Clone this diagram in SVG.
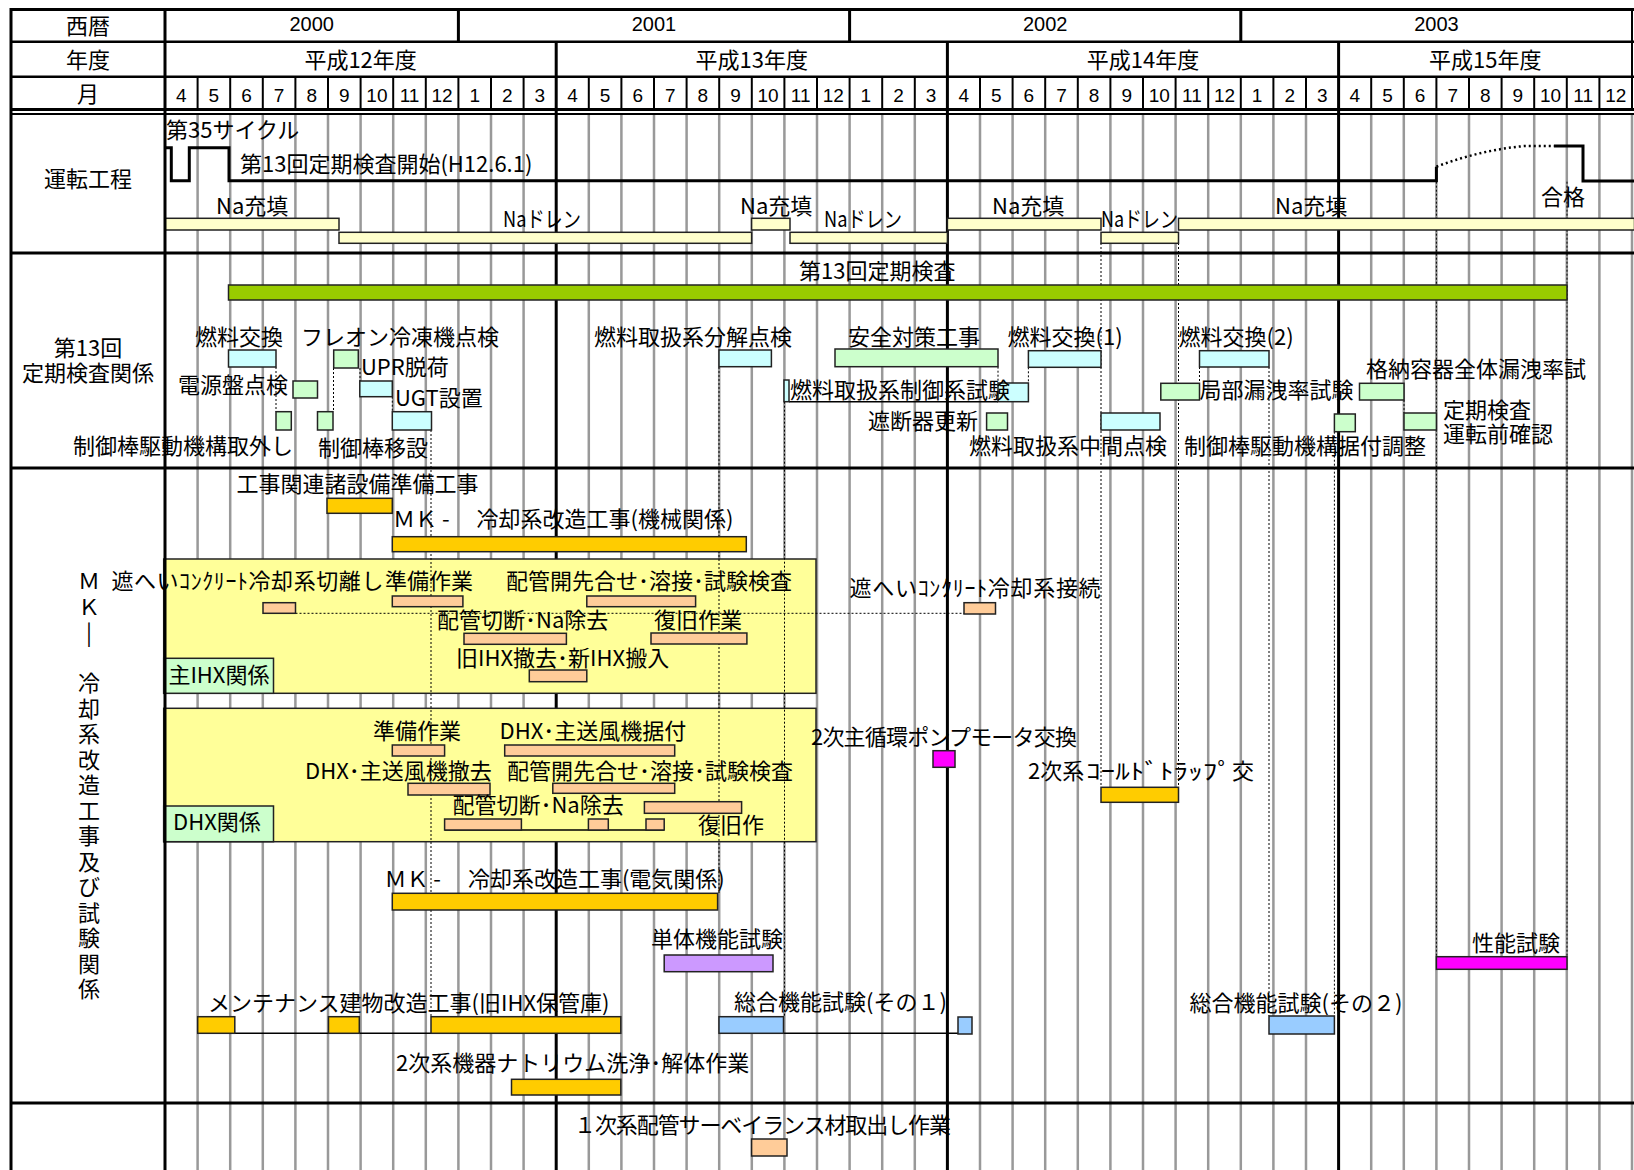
<svg xmlns="http://www.w3.org/2000/svg" width="1634" height="1170" viewBox="0 0 1634 1170">
<style>
.t{font-family:"Noto Sans CJK JP","Liberation Sans",sans-serif;font-size:22px;fill:#000;dominant-baseline:central;transform:translateY(-3px)}
.c{text-anchor:middle}
.h{font-family:"Liberation Sans",sans-serif;font-size:20px;fill:#000;text-anchor:middle;dominant-baseline:central}
.m{font-family:"Liberation Sans",sans-serif;font-size:19px;fill:#000;text-anchor:middle;dominant-baseline:central}
.grid{stroke:#999;stroke-width:2.5;fill:none}
.blk{stroke:#000;fill:none}
.dot{stroke:#000;stroke-width:1;stroke-dasharray:2 2;fill:none}
.bar{stroke:#222;stroke-width:1.5}
.cy{fill:#CCFFFF}.gr{fill:#CCFFCC}.or{fill:#FFCC00}.pe{fill:#FFCC99}.na{fill:#FFFFCC}
.bl{fill:#99CCFF}.pu{fill:#CC99FF}.mg{fill:#FF00FF}.lg{fill:#99CC00}.yl{fill:#FFFF99}
</style>
<rect x="0" y="0" width="1634" height="1170" fill="#fff"/>

<g id="grid">
<path class="grid" d="M197.6,114V1170M230.2,114V1170M262.8,114V1170M295.4,114V1170M328,114V1170M360.6,114V1170M393.2,114V1170M425.8,114V1170M458.4,114V1170M491,114V1170M523.6,114V1170M588.8,114V1170M621.4,114V1170M654,114V1170M686.6,114V1170M719.2,114V1170M751.8,114V1170M784.4,114V1170M817,114V1170M849.6,114V1170M882.2,114V1170M914.8,114V1170M980,114V1170M1012.6,114V1170M1045.2,114V1170M1077.8,114V1170M1110.4,114V1170M1143,114V1170M1175.6,114V1170M1208.2,114V1170M1240.8,114V1170M1273.4,114V1170M1306,114V1170M1371.2,114V1170M1403.8,114V1170M1436.4,114V1170M1469,114V1170M1501.6,114V1170M1534.2,114V1170M1566.8,114V1170M1599.4,114V1170M1632,114V1170"/>
<path class="blk" stroke-width="2" d="M197.6,76.7V109M230.2,76.7V109M262.8,76.7V109M295.4,76.7V109M328,76.7V109M360.6,76.7V109M393.2,76.7V109M425.8,76.7V109M458.4,76.7V109M491,76.7V109M523.6,76.7V109M588.8,76.7V109M621.4,76.7V109M654,76.7V109M686.6,76.7V109M719.2,76.7V109M751.8,76.7V109M784.4,76.7V109M817,76.7V109M849.6,76.7V109M882.2,76.7V109M914.8,76.7V109M980,76.7V109M1012.6,76.7V109M1045.2,76.7V109M1077.8,76.7V109M1110.4,76.7V109M1143,76.7V109M1175.6,76.7V109M1208.2,76.7V109M1240.8,76.7V109M1273.4,76.7V109M1306,76.7V109M1371.2,76.7V109M1403.8,76.7V109M1436.4,76.7V109M1469,76.7V109M1501.6,76.7V109M1534.2,76.7V109M1566.8,76.7V109M1599.4,76.7V109M1632,8V109"/>
<path class="blk" stroke-width="3" d="M458.4,8V41.7M849.6,8V41.7M1240.8,8V41.7M556.2,41.7V1170M947.4,41.7V1170M1338.6,41.7V1170"/>
</g>

<g id="regions">
<rect id="ihx-region" class="bar yl" x="163.7" y="559" width="652.3" height="134.3"/>
<rect id="dhx-region" class="bar yl" x="163.7" y="708.3" width="652.3" height="133.4"/>
</g>

<g id="connectors">
<path class="dot" d="M276,367V411.7M333.5,368V411.7M360,368V381M392.3,396.7V411.7M431,430V1017M719,367V893M784.5,401.7V1017M998,366.7V383M1028.4,367.3V383M1101,243V787M1178.5,243V787M1199.5,367V383M1269,367V1016M1334.4,431.7V1016M1404,400V413M1436.4,181.7V957M1567,181.7V957M295.5,613.3H964"/>
<path class="blk" stroke-width="1.5" d="M789,401.7H998M444.6,830H664.2M197.7,1033.3H431M783.5,1033.3H958"/>
</g>

<g id="operation">
<path class="blk" stroke-width="3" d="M165,147.7H171.3V180.7H189.3V147.7H229V180.7H1436.4V166.7"/>
<path class="blk" stroke-width="2.5" stroke-dasharray="2 3" d="M1436.4,166.7Q1480,150 1525,146H1554"/>
<path class="blk" stroke-width="3" d="M1554,146H1583V181H1634"/>
<text class="t" x="166" y="131">第35サイクル</text>
<text class="t" x="240" y="165">第13回定期検査開始(H12.6.1)</text>
</g>

<g id="na-bars">
<rect class="bar na" x="165" y="218.3" width="174" height="11.7"/>
<rect class="bar na" x="339" y="232.3" width="412.6" height="11"/>
<rect class="bar na" x="751.6" y="218.3" width="38.4" height="11.7"/>
<rect class="bar na" x="790" y="232.3" width="157.4" height="11"/>
<rect class="bar na" x="947.4" y="218.3" width="153.6" height="11.7"/>
<rect class="bar na" x="1101" y="232.3" width="77.5" height="11"/>
<rect class="bar na" x="1178.5" y="218.3" width="456" height="11.7"/>
<text class="t" x="216" y="207">Na充填</text>
<text class="t" x="503" y="220" textLength="78" lengthAdjust="spacingAndGlyphs">Naドレン</text>
<text class="t" x="740" y="207">Na充填</text>
<text class="t" x="824" y="220" textLength="78" lengthAdjust="spacingAndGlyphs">Naドレン</text>
<text class="t" x="992" y="207">Na充填</text>
<text class="t" x="1101" y="220" textLength="77" lengthAdjust="spacingAndGlyphs">Naドレン</text>
<text class="t" x="1275" y="207">Na充填</text>
<text class="t" x="1541" y="198">合格</text>
</g>

<g id="inspection">
<rect class="bar lg" x="228.5" y="285" width="1338.5" height="15"/>
<text class="t" x="799" y="272">第13回定期検査</text>
</g>
<g id="refuel"><rect class="bar cy" x="228.5" y="350" width="47.5" height="17"/><text class="t" x="195" y="338">燃料交換</text></g>
<g id="freon"><rect class="bar gr" x="333.7" y="350" width="24.6" height="18"/><text class="t" x="301" y="338">フレオン冷凍機点検</text></g>
<g id="upr"><rect class="bar cy" x="359.8" y="381" width="32.5" height="15.7"/><text class="t" x="361" y="368">UPR脱荷</text></g>
<g id="power"><rect class="bar gr" x="293" y="381" width="24.5" height="17"/><text class="t" x="178" y="386">電源盤点検</text></g>
<g id="ugt"><rect class="bar cy" x="392.3" y="411.7" width="39.2" height="18.3"/><text class="t" x="395" y="399">UGT設置</text></g>
<g id="crdm-remove"><rect class="bar gr" x="276" y="411.7" width="15.3" height="18.3"/><text class="t" x="73" y="447">制御棒駆動機構取外し</text></g>
<g id="rod-move"><rect class="bar gr" x="317.5" y="411.7" width="15.5" height="18.3"/><text class="t" x="318" y="449">制御棒移設</text></g>
<g id="fh-overhaul"><rect class="bar cy" x="719" y="350" width="52.4" height="16.7"/><text class="t" x="594" y="338">燃料取扱系分解点検</text></g>
<g id="fh-control"><rect class="bar cy" x="784" y="380" width="5" height="21.7"/><rect class="bar cy" x="998" y="383" width="30.4" height="18.7"/><text class="t" x="790" y="391">燃料取扱系制御系試験</text></g>
<g id="safety"><rect class="bar gr" x="835" y="349" width="163" height="17.7"/><text class="t" x="848" y="338">安全対策工事</text></g>
<g id="refuel1"><rect class="bar cy" x="1028.4" y="350.7" width="72.6" height="16.6"/><text class="t" x="1007.5" y="338">燃料交換(1)</text></g>
<g id="refuel2"><rect class="bar cy" x="1199.5" y="350.7" width="69.5" height="16.3"/><text class="t" x="1178.5" y="338">燃料交換(2)</text></g>
<g id="local-leak"><rect class="bar gr" x="1160.8" y="383.3" width="38.7" height="16.7"/><text class="t" x="1199.5" y="391">局部漏洩率試験</text></g>
<g id="cv-leak"><rect class="bar gr" x="1359.5" y="383.3" width="44.5" height="16.7"/><text class="t" x="1366" y="370">格納容器全体漏洩率試</text></g>
<g id="breaker"><rect class="bar gr" x="986.6" y="413" width="20.9" height="17"/><text class="t" x="868" y="422">遮断器更新</text></g>
<g id="fh-mid"><rect class="bar cy" x="1101" y="413" width="59" height="17"/><text class="t" x="969" y="447">燃料取扱系中間点検</text></g>
<g id="crdm-install"><rect class="bar gr" x="1334.4" y="414" width="20.9" height="17.7"/><text class="t" x="1184" y="447">制御棒駆動機構据付調整</text></g>
<g id="pre-op"><rect class="bar gr" x="1404" y="413" width="32.4" height="17"/><text class="t" x="1443" y="411">定期検査</text><text class="t" x="1443" y="435">運転前確認</text></g>

<g id="prep-works"><rect class="bar or" x="327" y="498.3" width="65.3" height="15"/><text class="t" x="236.4" y="485">工事関連諸設備準備工事</text></g>
<g id="mk-mech"><rect class="bar or" x="392.3" y="536.7" width="354" height="15"/><text class="t" x="393" y="520">ＭＫ - 　冷却系改造工事(機械関係)</text></g>

<g id="ihx-cut"><rect class="bar pe" x="263" y="602.7" width="32.5" height="10.6"/><text class="t" x="111.4" y="582" textLength="272">遮へいｺﾝｸﾘｰﾄ冷却系切離し</text></g>
<g id="ihx-prep"><rect class="bar pe" x="392.3" y="596" width="70.6" height="10.7"/><text class="t" x="385" y="582">準備作業</text></g>
<g id="ihx-weld"><rect class="bar pe" x="586.8" y="596" width="108.8" height="10.7"/><text class="t" x="506" y="582">配管開先合せ･溶接･試験検査</text></g>
<g id="ihx-connect"><rect class="bar pe" x="964" y="602.7" width="31.5" height="11.3"/><text class="t" x="849.6" y="589" textLength="251">遮へいｺﾝｸﾘｰﾄ冷却系接続</text></g>
<g id="ihx-pipecut"><rect class="bar pe" x="464" y="633.3" width="102.4" height="11"/><text class="t" x="437" y="621">配管切断･Na除去</text></g>
<g id="ihx-restore"><rect class="bar pe" x="651" y="633" width="95.9" height="11"/><text class="t" x="654" y="621">復旧作業</text></g>
<g id="ihx-replace"><rect class="bar pe" x="529.3" y="670" width="57.5" height="11.7"/><text class="t" x="456" y="659">旧IHX撤去･新IHX搬入</text></g>
<g id="ihx-tag"><rect class="bar gr" x="163.7" y="658.3" width="109.8" height="35"/><text class="t" x="168.4" y="676">主IHX関係</text></g>

<g id="dhx-prep"><rect class="bar pe" x="392.3" y="745" width="52.3" height="11"/><text class="t" x="373" y="732">準備作業</text></g>
<g id="dhx-install"><rect class="bar pe" x="504.7" y="745" width="170" height="11"/><text class="t" x="499.5" y="732">DHX･主送風機据付</text></g>
<g id="dhx-remove"><rect class="bar pe" x="408" y="783.3" width="82" height="11.7"/><text class="t" x="305" y="772">DHX･主送風機撤去</text></g>
<g id="dhx-weld"><rect class="bar pe" x="552.8" y="783.3" width="121.9" height="10"/><text class="t" x="507" y="772">配管開先合せ･溶接･試験検査</text></g>
<g id="dhx-restore"><rect class="bar pe" x="644.4" y="801.7" width="97.2" height="11.6"/><text class="t" x="698" y="826">復旧作</text></g>
<g id="dhx-pipecut"><rect class="bar pe" x="444.6" y="819" width="76.8" height="11"/><rect class="bar pe" x="588.4" y="819" width="19.9" height="11"/><rect class="bar pe" x="646" y="819" width="18.2" height="11"/><text class="t" x="452.4" y="806">配管切断･Na除去</text></g>
<g id="dhx-tag"><rect class="bar gr" x="163.7" y="806" width="109.8" height="35.7"/><text class="t" x="173" y="823">DHX関係</text></g>

<g id="pump-motor"><rect class="bar mg" x="933" y="750.7" width="22" height="16.6"/><text class="t" x="811" y="738" textLength="266">2次主循環ポンプモータ交換</text></g>
<g id="cold-trap"><rect class="bar or" x="1101" y="787.3" width="77.5" height="15"/><text class="t" x="1028" y="772">2次系</text><text class="t" x="1086" y="772" textLength="146" lengthAdjust="spacingAndGlyphs">ｺｰﾙﾄﾞﾄﾗｯﾌﾟ</text><text class="t" x="1232" y="772">交</text></g>
<g id="mk-elec"><rect class="bar or" x="392.3" y="893.3" width="325.3" height="16.7"/><text class="t" x="384.4" y="880">ＭＫ - 　冷却系改造工事(電気関係)</text></g>
<g id="unit-test"><rect class="bar pu" x="664.2" y="955" width="108.8" height="16.7"/><text class="t" x="651" y="940">単体機能試験</text></g>
<g id="perf-test"><rect class="bar mg" x="1436.4" y="956.7" width="130.6" height="12.6"/><text class="t" x="1472" y="944">性能試験</text></g>
<g id="maint-bldg"><rect class="bar or" x="197.7" y="1016.7" width="37.1" height="16.6"/><rect class="bar or" x="328.5" y="1016.7" width="30.8" height="16.6"/><rect class="bar or" x="431" y="1016.7" width="189.8" height="16.6"/><text class="t" x="208" y="1004">メンテナンス建物改造工事(旧IHX保管庫)</text></g>
<g id="sys-test1"><rect class="bar bl" x="719" y="1016.7" width="64.5" height="16.6"/><rect class="bar bl" x="958" y="1017" width="14" height="17"/><text class="t" x="734" y="1003">総合機能試験(その１)</text></g>
<g id="sys-test2"><rect class="bar bl" x="1269" y="1016" width="65.4" height="18"/><text class="t" x="1189.5" y="1004">総合機能試験(その２)</text></g>
<g id="na-wash"><rect class="bar or" x="511.5" y="1079.3" width="109.3" height="15.7"/><text class="t" x="396" y="1064">2次系機器ナトリウム洗浄･解体作業</text></g>
<g id="surveillance"><rect class="bar pe" x="751.6" y="1139" width="35.4" height="17"/><text class="t" x="574" y="1126" textLength="377">１次系配管サーベイランス材取出し作業</text></g>

<g id="frame">
<path class="blk" stroke-width="3" d="M10,9.5H1634M11,8V1170M165,8V1170M10,109.5H1634M10,253H1634M10,468H1634M10,1103H1634"/>
<path class="blk" stroke-width="2.5" d="M10,41.7H1634M10,76.7H1634"/>
<path class="blk" stroke-width="2" d="M10,114H1634"/>
</g>

<g id="header">
<text class="t c" x="88" y="27">西暦</text>
<text class="t c" x="88" y="61">年度</text>
<text class="t c" x="88" y="95">月</text>
<text class="h" x="311.7" y="24">2000</text>
<text class="h" x="654" y="24">2001</text>
<text class="h" x="1045.2" y="24">2002</text>
<text class="h" x="1436.4" y="24">2003</text>
<text class="t c" x="360.6" y="61">平成12年度</text>
<text class="t c" x="751.8" y="61">平成13年度</text>
<text class="t c" x="1143" y="61">平成14年度</text>
<text class="t c" x="1485.3" y="61">平成15年度</text>
<g id="months">
<text class="m" x="181.3" y="95">4</text><text class="m" x="213.9" y="95">5</text><text class="m" x="246.5" y="95">6</text><text class="m" x="279.1" y="95">7</text><text class="m" x="311.7" y="95">8</text><text class="m" x="344.3" y="95">9</text><text class="m" x="376.9" y="95">10</text><text class="m" x="409.5" y="95">11</text><text class="m" x="442.1" y="95">12</text><text class="m" x="474.7" y="95">1</text><text class="m" x="507.3" y="95">2</text><text class="m" x="539.9" y="95">3</text>
<text class="m" x="572.5" y="95">4</text><text class="m" x="605.1" y="95">5</text><text class="m" x="637.7" y="95">6</text><text class="m" x="670.3" y="95">7</text><text class="m" x="702.9" y="95">8</text><text class="m" x="735.5" y="95">9</text><text class="m" x="768.1" y="95">10</text><text class="m" x="800.7" y="95">11</text><text class="m" x="833.3" y="95">12</text><text class="m" x="865.9" y="95">1</text><text class="m" x="898.5" y="95">2</text><text class="m" x="931.1" y="95">3</text>
<text class="m" x="963.7" y="95">4</text><text class="m" x="996.3" y="95">5</text><text class="m" x="1028.9" y="95">6</text><text class="m" x="1061.5" y="95">7</text><text class="m" x="1094.1" y="95">8</text><text class="m" x="1126.7" y="95">9</text><text class="m" x="1159.3" y="95">10</text><text class="m" x="1191.9" y="95">11</text><text class="m" x="1224.5" y="95">12</text><text class="m" x="1257.1" y="95">1</text><text class="m" x="1289.7" y="95">2</text><text class="m" x="1322.3" y="95">3</text>
<text class="m" x="1354.9" y="95">4</text><text class="m" x="1387.5" y="95">5</text><text class="m" x="1420.1" y="95">6</text><text class="m" x="1452.7" y="95">7</text><text class="m" x="1485.3" y="95">8</text><text class="m" x="1517.9" y="95">9</text><text class="m" x="1550.5" y="95">10</text><text class="m" x="1583.1" y="95">11</text><text class="m" x="1615.7" y="95">12</text>
</g>
</g>

<g id="row-labels">
<text class="t c" x="88" y="180">運転工程</text>
<text class="t c" x="88" y="349">第13回</text>
<text class="t c" x="88" y="374">定期検査関係</text>
<g id="mk-label" font-size="20">
<text class="t c" x="89" y="582">Ｍ</text>
<text class="t c" x="89" y="608">Ｋ</text>
<text class="t c" x="89" y="634">|</text>
<text class="t c" x="89" y="684">冷</text>
<text class="t c" x="89" y="709.5">却</text>
<text class="t c" x="89" y="735">系</text>
<text class="t c" x="89" y="760.5">改</text>
<text class="t c" x="89" y="786">造</text>
<text class="t c" x="89" y="811.5">工</text>
<text class="t c" x="89" y="837">事</text>
<text class="t c" x="89" y="862.5">及</text>
<text class="t c" x="89" y="888">び</text>
<text class="t c" x="89" y="913.5">試</text>
<text class="t c" x="89" y="939">験</text>
<text class="t c" x="89" y="964.5">関</text>
<text class="t c" x="89" y="990">係</text>
</g>
</g>
</svg>
